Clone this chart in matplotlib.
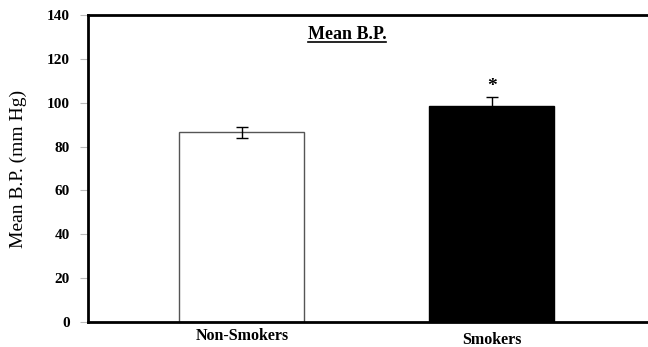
import matplotlib
matplotlib.use("Agg")
import matplotlib.pyplot as plt
from matplotlib.lines import Line2D

categories = ["Non-Smokers", "Smokers"]
means = [86.5, 98.5]
errors = [2.5, 4.0]
yticks = [0, 20, 40, 60, 80, 100, 120, 140]

plt.rcParams['font.family'] = ['Liberation Serif', 'DejaVu Serif']

fig = plt.figure(figsize=(6.48, 3.47), dpi=100)
ax = fig.add_axes([88/648, 1-322/347, 1-88/648 + 0.01, (322-15)/347])

x = [0, 1]
ax.bar(x[0], means[0], width=0.5, color='white', edgecolor='#555555', linewidth=1.0, zorder=2)
ax.bar(x[1], means[1], width=0.5, color='black', edgecolor='black', linewidth=1.0, zorder=2)
ax.errorbar(x, means, yerr=errors, fmt='none', ecolor='black', elinewidth=1.0, capsize=4, capthick=1.0, zorder=3)
ax.text(x[1], means[1] + errors[1] + 5, '*', ha='center', va='center', fontsize=14, fontweight='bold')

ax.set_xlim(-0.615, 1.65)
ax.set_ylim(0, 140)
ax.set_yticks(yticks)
ax.set_yticklabels([str(v) for v in yticks], fontweight='bold', fontsize=11)
ax.set_xticks(x)
ax.set_xticklabels([])
ax.tick_params(axis='y', length=6, width=0.8, color='#bbbbbb', pad=7)
ax.tick_params(axis='x', length=0)

ax.text(x[0], -0.045, categories[0], transform=ax.get_xaxis_transform(), ha='center', va='center',
        fontsize=11.5, fontweight='bold')
ax.text(x[1], -0.06, categories[1], transform=ax.get_xaxis_transform(), ha='center', va='center',
        fontsize=11.5, fontweight='bold')

ax.set_ylabel('Mean B.P. (mm Hg)', fontsize=14, labelpad=14)

title = ax.text(0.457, 0.935, 'Mean B.P.', transform=ax.transAxes, ha='center', va='center',
                fontsize=13, fontweight='bold')

for s in ['left', 'bottom', 'top']:
    ax.spines[s].set_linewidth(2.0)
    ax.spines[s].set_color('black')
ax.spines['right'].set_visible(False)

fig.canvas.draw()
bb = title.get_window_extent(renderer=fig.canvas.get_renderer())
inv = fig.transFigure.inverted()
(x0, y0), (x1, y1) = inv.transform([[bb.x0, bb.y0], [bb.x1, bb.y0]])
fig.add_artist(Line2D([x0, x1], [y0 + 0.004, y0 + 0.004], transform=fig.transFigure, color='black', linewidth=1.2))

fig.savefig('out.png', dpi=100)
